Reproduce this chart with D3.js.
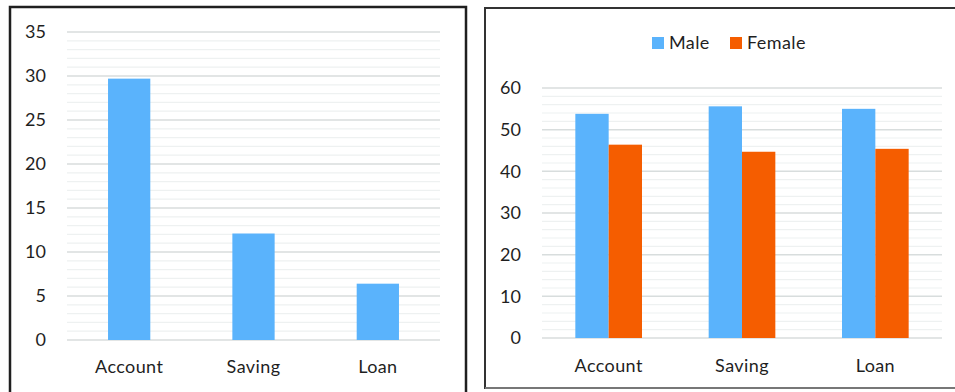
<!DOCTYPE html>
<html>
<head>
<meta charset="utf-8">
<script src="https://cdn.jsdelivr.net/npm/d3@7"></script>
<style>
  body{margin:0;background:#fff;}
  svg{display:block;font-family:Lato,"Open Sans",sans-serif;}
</style>
</head>
<body>
<svg id="chart" width="955" height="392"></svg>
<script>
const categories=["Account","Saving","Loan"];
const overall=[29.7,12.1,6.4];
const genders=["Male","Female"];
const male=[53.8,55.6,55.0];
const female=[46.4,44.7,45.4];

const ink="#1f1f1f", blue="#5ab3fc", orange="#f55d00";
const major="#d8dddd", minor="#eef1f1";
const svg=d3.select("#chart");

// panel frames
svg.append("rect").attr("x",10).attr("y",7).attr("width",456).attr("height",400)
  .attr("fill","none").attr("stroke",ink).attr("stroke-width",2.5);
svg.append("rect").attr("x",485).attr("y",8).attr("width",480).attr("height",380)
  .attr("fill","none").attr("stroke","#333").attr("stroke-width",2);
svg.append("line").attr("x1",485).attr("x2",955).attr("y1",388).attr("y2",388)
  .attr("stroke","#777").attr("stroke-width",2);

function grid(g,y,x0,x1,minorStep,majorStep){
  const [lo,hi]=y.domain();
  g.selectAll(".minor").data(d3.range(lo,hi+0.001,minorStep).filter(v=>v%majorStep!==0)).join("line")
    .attr("x1",x0).attr("x2",x1).attr("y1",d=>y(d)).attr("y2",d=>y(d))
    .attr("stroke",minor).attr("stroke-width",1.2);
  g.selectAll(".major").data(d3.range(lo,hi+0.001,majorStep)).join("line")
    .attr("x1",x0).attr("x2",x1).attr("y1",d=>y(d)).attr("y2",d=>y(d))
    .attr("stroke",major).attr("stroke-width",1.5);
}
function axes(g,x,y,tickX,labelY,majorStep){
  g.append("g").attr("transform",`translate(${tickX},0)`)
    .call(d3.axisLeft(y).tickValues(d3.range(y.domain()[0],y.domain()[1]+0.001,majorStep)).tickSize(0).tickPadding(0))
    .call(s=>s.select(".domain").remove())
    .call(s=>s.selectAll("text").attr("font-size",18).attr("fill",ink).attr("font-family","Lato,sans-serif"));
  g.append("g").attr("transform",`translate(0,${labelY})`)
    .call(d3.axisBottom(x).tickSize(0).tickPadding(0))
    .call(s=>s.select(".domain").remove())
    .call(s=>s.selectAll("text").attr("font-size",18).attr("fill",ink).attr("font-family","Lato,sans-serif")
      .attr("dy",0).attr("letter-spacing",0.4));
}

// LEFT CHART
(function(){
  const g=svg.append("g");
  const x=d3.scaleBand().domain(categories).range([67,440]).paddingInner(0.66).paddingOuter(0.33);
  const y=d3.scaleLinear().domain([0,35]).range([340,32]);
  grid(g,y,67,440,1,5);
  g.selectAll(".bar").data(categories).join("rect")
    .attr("x",d=>x(d)).attr("width",x.bandwidth())
    .attr("y",(d,i)=>y(overall[i])).attr("height",(d,i)=>y(0)-y(overall[i]))
    .attr("fill",blue);
  axes(g,x,y,46,373,5);
})();

// RIGHT CHART
(function(){
  const g=svg.append("g");
  const x=d3.scaleBand().domain(categories).range([542,942]).paddingInner(0.5).paddingOuter(0.25);
  const xs=d3.scaleBand().domain(genders).range([0,x.bandwidth()]);
  const y=d3.scaleLinear().domain([0,60]).range([338,88]);
  const color=d3.scaleOrdinal().domain(genders).range([blue,orange]);
  grid(g,y,542,942,2,10);
  const series={Male:male,Female:female};
  genders.forEach(s=>{
    g.selectAll(".b"+s).data(categories).join("rect")
      .attr("x",d=>x(d)+xs(s)).attr("width",xs.bandwidth())
      .attr("y",(d,i)=>y(series[s][i])).attr("height",(d,i)=>y(0)-y(series[s][i]))
      .attr("fill",color(s));
  });
  axes(g,x,y,521,372,10);

  const lg=g.append("g").attr("transform","translate(652,37)");
  const pos=[0,78];
  genders.forEach((s,i)=>{
    lg.append("rect").attr("x",pos[i]).attr("y",0).attr("width",12).attr("height",12).attr("fill",color(s));
    lg.append("text").attr("x",pos[i]+17).attr("y",12).attr("font-size",18).attr("fill",ink)
      .attr("letter-spacing",0.4).text(s);
  });
})();
</script>
</body>
</html>
